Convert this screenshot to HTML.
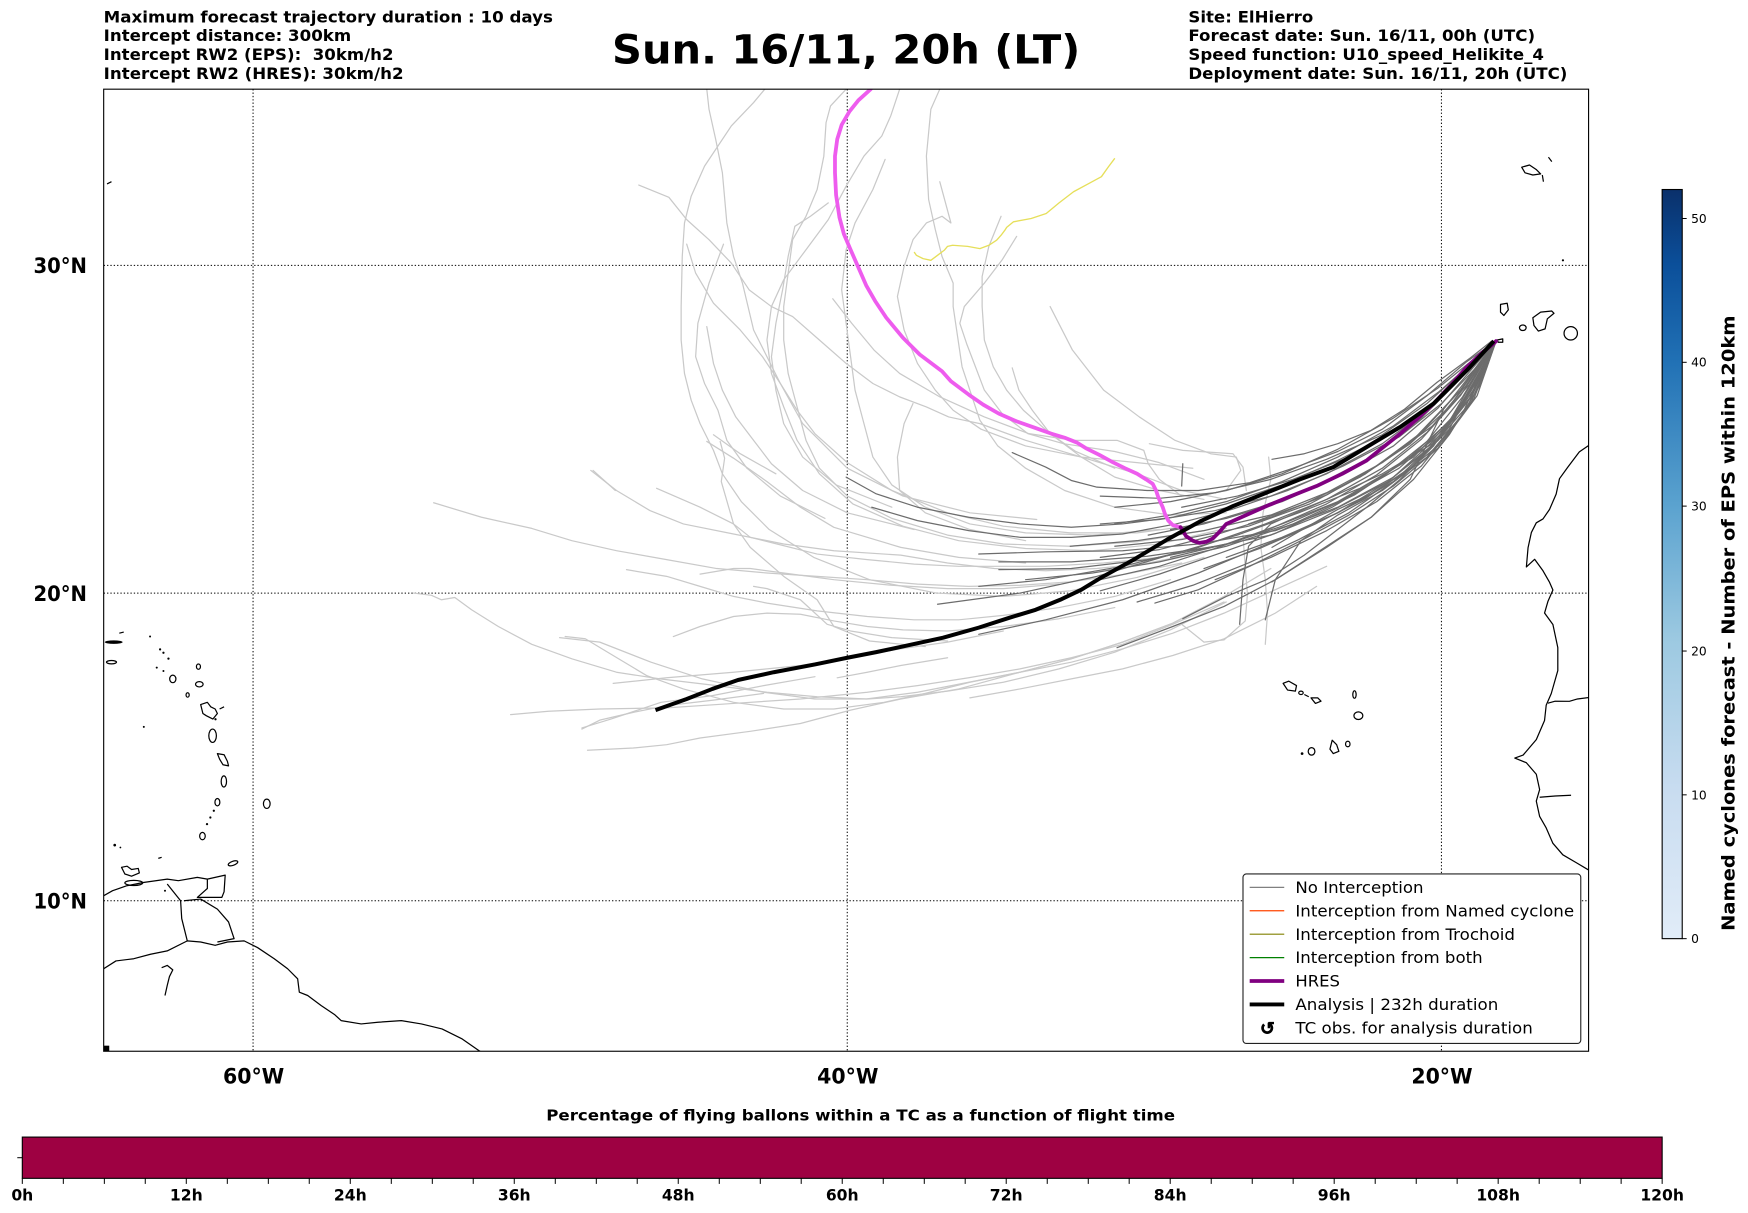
<!DOCTYPE html>
<html><head><meta charset="utf-8"><style>
html,body{margin:0;padding:0;background:#fff;}
svg{display:block;}
text{font-family:"DejaVu Sans","Liberation Sans",sans-serif;fill:#000;}
.b{font-weight:bold;}
.lg{fill:none;stroke:#c9c9c9;stroke-width:1.1;stroke-linejoin:round;stroke-linecap:round;}
.dg{fill:none;stroke:#6c6c6c;stroke-width:1.1;stroke-linejoin:round;stroke-linecap:round;}
.cst{fill:none;stroke:#000;stroke-width:1.1;stroke-linejoin:round;}
.grid{stroke:#000;stroke-width:0.9;stroke-dasharray:1.2,1.8;fill:none;}
</style></head><body>
<svg width="1748" height="1213" viewBox="0 0 1568 1088.1" xmlns="http://www.w3.org/2000/svg">
<defs>
<clipPath id="ax"><rect x="93" y="80" width="1332" height="863"/></clipPath>
<linearGradient id="blues" x1="0" y1="1" x2="0" y2="0">
<stop offset="0" stop-color="#e1ecf8"/>
<stop offset="0.2" stop-color="#c8dcf0"/>
<stop offset="0.4" stop-color="#9cc9e1"/>
<stop offset="0.58" stop-color="#5aa2cf"/>
<stop offset="0.77" stop-color="#2171b5"/>
<stop offset="0.9" stop-color="#0b4f9a"/>
<stop offset="1" stop-color="#0a306b"/>
</linearGradient>
</defs>

<!-- Header text -->
<text class="b" x="93" y="20" font-size="14" textLength="403" lengthAdjust="spacingAndGlyphs">Maximum forecast trajectory duration : 10 days</text>
<text class="b" x="93" y="37" font-size="14" textLength="222" lengthAdjust="spacingAndGlyphs">Intercept distance: 300km</text>
<text class="b" x="93" y="54" font-size="14" textLength="260" lengthAdjust="spacingAndGlyphs">Intercept RW2 (EPS):&#160; 30km/h2</text>
<text class="b" x="93" y="71" font-size="14" textLength="269" lengthAdjust="spacingAndGlyphs">Intercept RW2 (HRES): 30km/h2</text>
<text class="b" x="549" y="57" font-size="36" textLength="420" lengthAdjust="spacingAndGlyphs">Sun. 16/11, 20h (LT)</text>
<text class="b" x="1066" y="20" font-size="14" textLength="112" lengthAdjust="spacingAndGlyphs">Site: ElHierro</text>
<text class="b" x="1066" y="37" font-size="14" textLength="311" lengthAdjust="spacingAndGlyphs">Forecast date: Sun. 16/11, 00h (UTC)</text>
<text class="b" x="1066" y="54" font-size="14" textLength="319" lengthAdjust="spacingAndGlyphs">Speed function: U10_speed_Helikite_4</text>
<text class="b" x="1066" y="71" font-size="14" textLength="340" lengthAdjust="spacingAndGlyphs">Deployment date: Sun. 16/11, 20h (UTC)</text>

<g clip-path="url(#ax)">
<!-- gridlines -->
<line class="grid" x1="227" y1="80" x2="227" y2="943"/>
<line class="grid" x1="760" y1="80" x2="760" y2="943"/>
<line class="grid" x1="1293" y1="80" x2="1293" y2="943"/>
<line class="grid" x1="93" y1="238" x2="1425" y2="238"/>
<line class="grid" x1="93" y1="532" x2="1425" y2="532"/>
<line class="grid" x1="93" y1="808" x2="1425" y2="808"/>

<!-- coastlines -->
<polyline class="cst" points="93,869 104,862 120,860 135,856 150,853 168,844 180,845 193,848 204,845 219,844 231,850 246,860 258,869 267,878 268.5,890 276,893 288,902 300,910 306,915.5 324,918.5 339,917 360,915.5 378,918.5 396.5,923 414.6,932 429.6,942.4 432,944"/>
<polyline class="cst" points="93,803.5 101,799 113.5,794.6 128.5,791.6 150,788.6 160,790 177,787 186,788.6"/>
<polygon class="cst" points="186,788.6 202,785 201,800 199,805 177,805 186,797"/>
<polyline class="cst" points="150,793 162,808 163,824 168,844"/>
<polyline class="cst" points="165,808 180,806.5 195,815.5 205,827 210,842 195,845"/>
<path class="cst" d="M145,868 L150,866 L155,870 L152,876 L150,884 L148,893"/>
<rect x="93" y="938" width="5" height="5" fill="#000"/>
<!-- Antilles -->
<ellipse cx="102" cy="576" rx="8" ry="1.6" fill="#000"/>
<ellipse class="cst" cx="100" cy="594" rx="4.5" ry="1.5"/>
<path class="cst" d="M107,568 L111,567 M96,165 L100,163"/>
<g fill="#000">
<circle cx="134.6" cy="571" r="0.9"/><circle cx="143.6" cy="582.5" r="1"/><circle cx="146.6" cy="585.5" r="1"/><circle cx="151.1" cy="590.8" r="1"/><circle cx="140.6" cy="598.9" r="0.9"/><circle cx="146.6" cy="601.9" r="0.9"/><circle cx="129" cy="652" r="0.9"/><circle cx="191.8" cy="727.3" r="1"/><circle cx="188.7" cy="733.3" r="1"/><circle cx="185.7" cy="739.3" r="1"/><circle cx="148" cy="799" r="0.9"/><circle cx="102.9" cy="758.1" r="1.2"/><circle cx="108" cy="760.2" r="0.8"/><circle cx="193.3" cy="645.2" r="1"/><circle cx="1402" cy="233.5" r="1"/><circle cx="1168" cy="676" r="1.2"/>
</g>
<ellipse class="cst" cx="155" cy="609" rx="2.8" ry="3.4"/>
<ellipse class="cst" cx="178" cy="598" rx="1.8" ry="2.4"/>
<ellipse class="cst" cx="178.8" cy="613.8" rx="3.4" ry="2.4"/>
<ellipse class="cst" cx="168.3" cy="623.4" rx="1.4" ry="2"/>
<polygon class="cst" points="180,632 186,630 189,634 193,636 195,640 191,645 185,642 182,640"/>
<path class="cst" d="M197,636 L201,634 M142,770 L145,769"/>
<ellipse class="cst" cx="190.7" cy="660" rx="3.4" ry="6"/>
<polygon class="cst" points="195,676 201,677 204,683 205,687 200,686 197,681"/>
<ellipse class="cst" cx="200.8" cy="701" rx="2.4" ry="5"/>
<ellipse class="cst" cx="195" cy="719.6" rx="2.2" ry="3.3"/>
<ellipse class="cst" cx="181.6" cy="750" rx="2.5" ry="3.3"/>
<ellipse class="cst" cx="239.3" cy="721" rx="3" ry="4.2"/>
<ellipse class="cst" cx="209" cy="774.4" rx="4.5" ry="1.8" transform="rotate(-20 209 774.4)"/>
<polygon class="cst" points="109,778 114,777 118,780 124,779 125,783 118,786 112,784"/>
<ellipse class="cst" cx="120" cy="792" rx="8" ry="2.3"/>
<!-- Africa -->
<polyline class="cst" points="1426,399 1416.7,405.3 1406.3,419.1 1398.9,429.4 1395.9,443.2 1390,456.9 1384.1,465.5 1378.1,469 1373.7,477.6 1370.7,491.4 1369.2,508.6 1376.6,501.7 1384.1,512 1390,522.4 1393,529.2 1388.5,539.6 1385.5,549.9 1393,560.2 1397.4,580.9 1397.4,601.5 1391.5,622.2 1387,632.5 1385.5,646.3 1378.1,663.5 1366.3,677.3 1358.8,680 1369.2,684.2 1378.1,694.5 1381.1,708.3 1378.1,718.6 1381.1,732.4 1387,742.7 1393,756.5 1401.9,766.8 1413.7,773.7 1426,781"/>
<polyline class="cst" points="1388.5,630.8 1395,629 1407.8,629.1 1415,627 1426,625.6"/>
<polyline class="cst" points="1381.1,715.2 1395,714 1409.3,713.4"/>
<!-- Madeira -->
<polygon class="cst" points="1365,150 1372,148 1378,152 1382,156 1375,157 1368,155"/>
<path class="cst" d="M1383.5,157 L1384.5,163 M1389,141 L1392,145"/>
<!-- Canaries -->
<polygon class="cst" points="1346,273 1352,272 1353,278 1349,283 1346,280"/>
<ellipse class="cst" cx="1366" cy="294" rx="3" ry="2.5"/>
<polygon class="cst" points="1375,285 1382,280 1392,279 1394,281 1388,286 1386,295 1380,297 1376,292"/>
<ellipse class="cst" cx="1409" cy="299" rx="6" ry="6"/>
<polygon class="cst" points="1343,305 1348,304 1348,307 1344,307"/>
<!-- Cape Verde -->
<polygon class="cst" points="1151,613 1156,611 1163,615 1162,620 1155,619"/>
<ellipse class="cst" cx="1167" cy="621.5" rx="2" ry="1.5"/>
<path class="cst" d="M1170,623 L1174,625"/>
<polygon class="cst" points="1176,626 1182,626 1185,629 1180,631"/>
<ellipse class="cst" cx="1215" cy="623" rx="1.5" ry="3.4"/>
<ellipse class="cst" cx="1218.5" cy="642" rx="4" ry="3.4"/>
<polygon class="cst" points="1195,664 1199,668 1201,674 1196,676 1193,672"/>
<ellipse class="cst" cx="1209" cy="667.4" rx="2" ry="2.5"/>
<ellipse class="cst" cx="1176.5" cy="674" rx="3" ry="3.4"/>

<!-- light gray trajectories -->
<g class="lg">
<polyline points="634,80 636,98 642,125 648,155 652,200 658,230 666,254 676,296 688,320 700,344 715,368 731,389 760,415 800,440 850,460 900,472 960,478 1020,478 1080,470"/>
<polyline points="686,80 676,92 656,113 632,149 620,176 614,200 612,230 611,275 611,305 614,335 620,359 628,380 640,404 648,425 665,450 690,475 730,500 780,520 840,532 900,535 960,530 1020,518 1080,500"/>
<polyline points="573,166 600,177 616,197 636,215 656,236 672,260 692,275 711,284 735,305 759,326 783,344 807,356 831,365 851,374 879,380 920,395 970,410 1020,425 1060,440 1100,448"/>
<polyline points="759,80 745,95 741,110 739,140 733,170 723,194 711,215 707,245 703,275 703,305 707,335 715,365 723,395 735,420 760,445 800,465 850,480 900,488 960,490 1020,486 1080,476"/>
<polyline points="807,80 799,104 791,122 775,140 759,167 743,197 723,224 703,251 692,275 688,305 692,335 703,365 715,395 735,425 765,452 810,472 860,485 920,492 980,494 1040,488 1100,474"/>
<polyline points="843,80 835,98 831,140 833,179 839,206 845,230 855,254 855,275 859,302 863,329 871,353 879,377 895,400 920,420 955,440 1000,455 1050,462 1100,460"/>
<polyline points="794,143 783,170 767,200 759,224 755,260 759,290 763,320 767,350 775,380 783,410 800,435 830,455 870,470 920,478 980,480 1040,475"/>
<polyline points="843,163 853,200 845,194 831,200 819,215 811,239 805,266 811,296 823,326 839,350 855,368 880,385 920,400 970,410 1020,415 1070,420"/>
<polyline points="898,194 887,221 881,248 881,275 883,305 891,329 903,350 918,368 942,389 970,410 1000,428 1040,440 1080,448"/>
<polyline points="912,212 899,233 883,254 865,275 861,290 867,308 875,329 883,350 899,371 922,389 954,398 1000,405 1040,415 1080,430"/>
<polyline points="942,275 962,314 990,350 1022,374 1054,395 1086,407 1109,410 1113,422 1100,440"/>
<polyline points="747,268 764,290 784,314 807,335 843,356 883,374 923,389 963,395 1002,395 1026,404 1030,416 1040,430 1060,445"/>
<polyline points="530,422 553,440 583,458 613,470 658,479 703,488 748,494 808,498 850,505 892,510 938,512 984,510 1030,505 1080,495"/>
<polyline points="589,438 628,455 658,470 673,482 697,488 733,497 778,502 820,506 860,508 901,508 938,508 990,505 1040,500"/>
<polyline points="389,451 432,464 477,474 513,485 553,494 598,502 643,510 688,514 733,517 778,520 823,524 869,526 915,525 960,522 1010,515 1060,505"/>
<polyline points="562,511 598,517 628,526 658,535 688,541 733,548 778,553 820,556 860,556 900,552 950,545 1000,535 1050,520"/>
<polyline points="628,515 658,510 673,510 703,514 748,520 800,525 850,528 900,528 950,524"/>
<polyline points="371,532 387,534 396,538 408,536 423,547 447,562 477,578 513,591 553,603 592,609 643,615 688,621 733,625 778,627 808,625 850,620 900,612 950,600 1000,585 1050,565 1100,540"/>
<polyline points="507,571 525,573 550,588 580,606 613,618 658,630 703,636 748,636 793,630 830,622 870,612 915,603 961,591 1007,576 1052,559 1098,535 1140,510"/>
<polyline points="604,571 628,562 658,553 688,550 718,551 748,557 778,562 810,565 850,566 900,562 950,555 1000,545"/>
<polyline points="550,613 598,608 658,603 718,597 760,590 808,582 850,576 900,566"/>
<polyline points="458,641 492,638 538,636 598,635 658,631 718,627 778,621 823,615 869,608 915,600 961,590 1007,578 1052,560 1098,540"/>
<polyline points="522,654 538,646 568,639 598,633 640,628 685,622"/>
<polyline points="527,673 568,671 598,668 628,662 673,656 718,649 763,637 808,627 860,618 915,603 961,594 1007,582 1052,568 1098,550 1144,529 1190,508"/>
<polyline points="676,526 688,528 718,538 742,560 763,566 800,572 850,575"/>
<polyline points="751,608 778,603 808,597 850,590"/>
<polyline points="870,626 915,618 961,609 1007,600 1052,588 1098,573 1144,550 1181,526"/>
<polyline points="646,396 650,411 647,432 658,470 673,491 703,517 733,538 748,562 780,575 830,580"/>
<polyline points="634,396 658,411 688,432 718,455 748,473 808,491 860,500 920,505"/>
<polyline points="616,219 624,245 640,272 664,296 684,320 700,344 720,380 760,420 810,445 870,460 930,466"/>
<polyline points="634,293 640,326 648,350 660,374 676,395 692,416 720,440 760,460 820,475"/>
<polyline points="649,219 636,254 626,290 624,320 632,344 644,368 652,395 670,420 700,445 740,465"/>
<polyline points="743,182 727,194 713,203 707,230 702,260 696,290 692,320 696,350 703,380 720,410 750,435 800,455"/>
<polyline points="908,330 914,350 926,368 942,389 965,405 1000,420"/>
<polyline points="819,362 811,380 805,410 807,440 830,460 870,475 920,485"/>
<polyline points="1135,578 1137,550 1135,520 1131,491 1133,460 1140,430 1138,410"/>
<polyline points="1060,560 1080,576 1098,574 1117,557 1119,533 1117,509 1115,480"/>
<polyline points="502,572 538,576 584,594 630,609 685,621 731,627 777,627 823,621 869,612 915,603 961,591 1007,576 1052,559 1098,535"/>
<polyline points="522,653 548,645 593,630 639,624 685,615 731,607"/>
<polyline points="532,422 552,440"/>
<polyline points="640,390 664,407 696,425"/>
<polyline points="1031,398 1061,404 1106,407 1115,419 1118,440"/>
</g>

<!-- dark gray bundle -->
<g class="dg">
<polyline points="908,406 938,419 961,431 984,437 1029,440 1075,440 1121,433 1160,420 1200,405 1240,385 1280,355 1315,325 1342,306"/>
<polyline points="759,428 786,443 823,455 869,464 915,470 961,473 1007,470 1052,464 1100,452 1150,435 1200,413 1250,388 1290,358 1320,330 1342,306"/>
<polyline points="782,455 823,467 869,476 915,482 961,482 1007,479 1055,470 1105,457 1155,440 1205,418 1255,392 1293,362 1322,332 1342,306"/>
<polyline points="878,497 938,495 1007,494 1075,488 1144,476 1200,455 1250,428 1292,390 1325,340 1342,306"/>
<polyline points="896,504 961,504 1029,499 1098,489 1150,472 1205,448 1255,420 1295,385 1328,338 1342,306"/>
<polyline points="896,511 961,510 1029,502 1090,490 1140,480 1195,458 1245,432 1290,395 1325,345 1342,306"/>
<polyline points="878,526 938,520 1007,508 1075,491 1135,470 1190,448 1240,425 1285,398 1320,355 1342,306"/>
<polyline points="841,542 915,532 984,517 1052,497 1110,480 1165,460 1220,438 1268,410 1305,372 1335,320 1342,306"/>
<polyline points="878,569 938,556 1007,538 1075,514 1144,485 1200,460 1250,432 1290,400 1322,358 1342,306"/>
<polyline points="1002,581 1052,562 1098,544 1144,520 1190,491 1230,464 1268,430 1300,390 1328,345 1342,306"/>
<polyline points="1036,541 1075,529 1121,508 1167,485 1210,462 1250,436 1290,402 1325,355 1342,306"/>
<polyline points="1135,556 1144,520 1167,485 1200,462 1240,440 1280,410 1315,368 1342,306"/>
<polyline points="1141,522 1190,490 1230,464 1265,430 1295,367 1320,335 1342,306"/>
<polyline points="1000,470 1050,462 1100,450 1150,432 1200,410 1250,382 1290,352 1320,326 1342,306"/>
<polyline points="1030,480 1080,470 1130,455 1180,436 1230,410 1270,380 1305,345 1342,306"/>
<polyline points="1000,455 1050,450 1100,440 1150,425 1200,403 1250,375 1290,348 1342,306"/>
<polyline points="1050,500 1100,488 1150,470 1200,450 1245,424 1285,395 1318,358 1342,306"/>
<polyline points="1080,510 1130,492 1180,470 1225,447 1265,420 1300,385 1342,306"/>
<polyline points="960,490 1020,485 1080,476 1140,462 1190,442 1240,415 1285,382 1318,345 1342,306"/>
<polyline points="920,520 980,514 1040,504 1100,490 1160,470 1215,444 1260,414 1300,378 1342,306"/>
<polyline points="1141,412 1170,407 1200,398 1230,386 1260,367 1289,343 1319,321 1338,306"/>
<polyline points="1141,491 1170,474 1200,457 1230,443 1260,423 1289,395 1319,357 1337,312"/>
<polyline points="1100,500 1150,482 1200,460 1245,432 1285,400 1320,360 1342,306"/>
<polyline points="1120,470 1170,452 1220,428 1265,398 1300,365 1342,306"/>
<polyline points="1050,475 1100,465 1150,450 1200,428 1250,400 1290,366 1342,306"/>
<polyline points="1000,490 1060,484 1120,472 1175,452 1225,425 1270,392 1310,350 1342,306"/>
<polyline points="1060,455 1110,445 1160,430 1210,410 1255,385 1295,355 1342,306"/>
<polyline points="1090,520 1140,500 1190,476 1235,450 1275,418 1310,375 1342,306"/>
<polyline points="987,520 1040,508 1090,492 1140,474 1190,452 1235,426 1275,394 1310,355 1342,306"/>
<polyline points="987,530 1040,515 1095,496 1145,478 1195,455 1240,428 1280,396 1312,356 1342,306"/>
<polyline points="987,470 1040,466 1090,458 1140,445 1190,425 1240,398 1280,368 1315,333 1342,306"/>
<polyline points="987,445 1040,447 1090,442 1140,430 1190,412 1240,390 1280,362 1315,330 1342,306"/>
<polyline points="1061,555 1100,535 1136,520 1170,498 1196,478 1226,455 1256,430 1286,400 1316,356 1334,323 1342,306"/>
<polyline points="1112,560 1115,520 1120,490 1140,470 1190,448 1240,420 1280,388 1315,346 1342,306"/>
<polyline points="987,500 1040,493 1090,480 1140,464 1190,444 1235,418 1275,388 1310,350 1342,306"/>
<polyline points="1020,540 1070,525 1120,505 1165,484 1210,460 1250,432 1290,395 1320,350 1342,306"/>
<polyline points="1061,416 1060,436"/>
</g>

<!-- yellow -->
<polyline fill="none" stroke="#e6df5a" stroke-width="1.2" stroke-linejoin="round" points="1000,142 994,150 988,158.5 976,165 963,172 950,182 938.5,191.5 925,196 909,199 903,204 901.4,206.5 898,211 894,215.5 887,220 879,223 868,221 854.5,220 850,221 847,224.5 841,229 835,233.5 828,232 822,229 820,226"/>

<!-- HRES light pink part -->
<polyline fill="none" stroke="#ee5cee" stroke-width="3.4" stroke-linejoin="round" stroke-linecap="round" points="781,80 770,90 762,100 755,112 751,125 749,140 749,155 750,175 753,195 757,210 763,224 770,240 777,256 785,270 795,285 810,303 825,318 845,333 853,342 869,354 882,363 896,371 912,378 929,384 943,389 956,393 966,397 974,402 986,408 997,414 1009,420 1020,425 1028,430 1034,434 1037,440 1039,446 1043,455 1045,461 1048,467 1052,471 1059,473"/>
<!-- HRES purple part -->
<polyline fill="none" stroke="#800080" stroke-width="3.4" stroke-linejoin="round" stroke-linecap="round" points="1059,473 1064,481 1070,485 1076,487 1082,486 1088,483 1094,477 1100,470 1118,462 1136,454 1158,445 1181,436 1204,425 1226,413 1241,401 1256,389 1271,376 1286,362 1301,346 1316,329 1330,316 1340,308 1342,306"/>
<!-- Analysis black -->
<polyline fill="none" stroke="#000" stroke-width="3.6" stroke-linejoin="round" points="588,637 616,627 639,618 662,610 694,603 731,596 760,590 786,585 814,579 846,572 878,563 906,554 929,547 951,538 970,529 988,518 1017,502 1047,484 1076,468 1106,454 1136,442 1166,430 1196,419 1226,401 1256,383 1286,362 1316,332 1340,306"/>
</g>

<!-- axes frame -->
<rect x="93" y="80" width="1332" height="863" fill="none" stroke="#000" stroke-width="1"/>

<!-- lat/lon labels -->
<text class="b" x="30" y="245" font-size="19" textLength="48" lengthAdjust="spacingAndGlyphs">30°N</text>
<text class="b" x="30" y="539" font-size="19" textLength="48" lengthAdjust="spacingAndGlyphs">20°N</text>
<text class="b" x="30" y="815" font-size="19" textLength="48" lengthAdjust="spacingAndGlyphs">10°N</text>
<text class="b" x="200" y="972" font-size="19" textLength="55" lengthAdjust="spacingAndGlyphs">60°W</text>
<text class="b" x="733" y="972" font-size="19" textLength="55" lengthAdjust="spacingAndGlyphs">40°W</text>
<text class="b" x="1266" y="972" font-size="19" textLength="55" lengthAdjust="spacingAndGlyphs">20°W</text>

<!-- legend -->
<rect x="1115" y="784" width="303" height="152" rx="3" ry="3" fill="#fff" stroke="#222" stroke-width="1"/>
<line x1="1121" y1="796" x2="1152" y2="796" stroke="#808080" stroke-width="1.1"/>
<line x1="1121" y1="817" x2="1152" y2="817" stroke="#ff4500" stroke-width="1.1"/>
<line x1="1121" y1="838" x2="1152" y2="838" stroke="#808000" stroke-width="1.1"/>
<line x1="1121" y1="859" x2="1152" y2="859" stroke="#008000" stroke-width="1.1"/>
<line x1="1121" y1="880" x2="1152" y2="880" stroke="#800080" stroke-width="3.4"/>
<line x1="1121" y1="901" x2="1152" y2="901" stroke="#000" stroke-width="3.4"/>
<text class="b" x="1137" y="928" font-size="16" text-anchor="middle" stroke="#000" stroke-width="0.6">↺</text>
<g font-size="14">
<text x="1162" y="801" textLength="115" lengthAdjust="spacingAndGlyphs">No Interception</text>
<text x="1162" y="822" textLength="250" lengthAdjust="spacingAndGlyphs">Interception from Named cyclone</text>
<text x="1162" y="843" textLength="197" lengthAdjust="spacingAndGlyphs">Interception from Trochoid</text>
<text x="1162" y="864" textLength="168" lengthAdjust="spacingAndGlyphs">Interception from both</text>
<text x="1162" y="885" textLength="40" lengthAdjust="spacingAndGlyphs">HRES</text>
<text x="1162" y="906" textLength="182" lengthAdjust="spacingAndGlyphs">Analysis | 232h duration</text>
<text x="1162" y="927" textLength="213" lengthAdjust="spacingAndGlyphs">TC obs. for analysis duration</text>
</g>

<!-- right colorbar -->
<rect x="1491" y="170" width="18" height="672" fill="url(#blues)" stroke="#000" stroke-width="1"/>
<g stroke="#000" stroke-width="0.9">
<line x1="1509" y1="842" x2="1513" y2="842"/><line x1="1509" y1="713" x2="1513" y2="713"/><line x1="1509" y1="584" x2="1513" y2="584"/><line x1="1509" y1="454" x2="1513" y2="454"/><line x1="1509" y1="325" x2="1513" y2="325"/><line x1="1509" y1="196" x2="1513" y2="196"/>
</g>
<g font-size="11">
<text x="1517" y="846">0</text><text x="1517" y="717">10</text><text x="1517" y="588">20</text><text x="1517" y="458">30</text><text x="1517" y="329">40</text><text x="1517" y="200">50</text>
</g>
<text class="b" transform="translate(1556,835) rotate(-90)" font-size="16" textLength="552" lengthAdjust="spacingAndGlyphs">Named cyclones forecast - Number of EPS within 120km</text>

<!-- bottom colorbar -->
<text class="b" x="490" y="1005" font-size="13.5" textLength="564" lengthAdjust="spacingAndGlyphs">Percentage of flying ballons within a TC as a function of flight time</text>
<rect x="20" y="1020" width="1471" height="37" fill="#9e0142" stroke="#000" stroke-width="1"/>
<line x1="15.5" y1="1038.5" x2="20" y2="1038.5" stroke="#000" stroke-width="0.9"/>
<g stroke="#000" stroke-width="0.9">
<line x1="20" y1="1057" x2="20" y2="1062"/><line x1="56.8" y1="1057" x2="56.8" y2="1062"/><line x1="93.6" y1="1057" x2="93.6" y2="1062"/><line x1="130.3" y1="1057" x2="130.3" y2="1062"/><line x1="167.1" y1="1057" x2="167.1" y2="1062"/><line x1="203.9" y1="1057" x2="203.9" y2="1062"/><line x1="240.7" y1="1057" x2="240.7" y2="1062"/><line x1="277.4" y1="1057" x2="277.4" y2="1062"/><line x1="314.2" y1="1057" x2="314.2" y2="1062"/><line x1="351" y1="1057" x2="351" y2="1062"/><line x1="387.8" y1="1057" x2="387.8" y2="1062"/><line x1="424.5" y1="1057" x2="424.5" y2="1062"/><line x1="461.3" y1="1057" x2="461.3" y2="1062"/><line x1="498.1" y1="1057" x2="498.1" y2="1062"/><line x1="534.9" y1="1057" x2="534.9" y2="1062"/><line x1="571.6" y1="1057" x2="571.6" y2="1062"/><line x1="608.4" y1="1057" x2="608.4" y2="1062"/><line x1="645.2" y1="1057" x2="645.2" y2="1062"/><line x1="682" y1="1057" x2="682" y2="1062"/><line x1="718.7" y1="1057" x2="718.7" y2="1062"/><line x1="755.5" y1="1057" x2="755.5" y2="1062"/><line x1="792.3" y1="1057" x2="792.3" y2="1062"/><line x1="829.1" y1="1057" x2="829.1" y2="1062"/><line x1="865.8" y1="1057" x2="865.8" y2="1062"/><line x1="902.6" y1="1057" x2="902.6" y2="1062"/><line x1="939.4" y1="1057" x2="939.4" y2="1062"/><line x1="976.2" y1="1057" x2="976.2" y2="1062"/><line x1="1012.9" y1="1057" x2="1012.9" y2="1062"/><line x1="1049.7" y1="1057" x2="1049.7" y2="1062"/><line x1="1086.5" y1="1057" x2="1086.5" y2="1062"/><line x1="1123.3" y1="1057" x2="1123.3" y2="1062"/><line x1="1160" y1="1057" x2="1160" y2="1062"/><line x1="1196.8" y1="1057" x2="1196.8" y2="1062"/><line x1="1233.6" y1="1057" x2="1233.6" y2="1062"/><line x1="1270.4" y1="1057" x2="1270.4" y2="1062"/><line x1="1307.1" y1="1057" x2="1307.1" y2="1062"/><line x1="1343.9" y1="1057" x2="1343.9" y2="1062"/><line x1="1380.7" y1="1057" x2="1380.7" y2="1062"/><line x1="1417.5" y1="1057" x2="1417.5" y2="1062"/><line x1="1454.2" y1="1057" x2="1454.2" y2="1062"/><line x1="1491" y1="1057" x2="1491" y2="1062"/>
</g>
<g class="b" font-size="14" text-anchor="middle">
<text x="20" y="1077">0h</text><text x="167.1" y="1077">12h</text><text x="314.2" y="1077">24h</text><text x="461.3" y="1077">36h</text><text x="608.4" y="1077">48h</text><text x="755.5" y="1077">60h</text><text x="902.6" y="1077">72h</text><text x="1049.7" y="1077">84h</text><text x="1196.8" y="1077">96h</text><text x="1343.9" y="1077">108h</text><text x="1491" y="1077">120h</text>
</g>
</svg>
</body></html>
